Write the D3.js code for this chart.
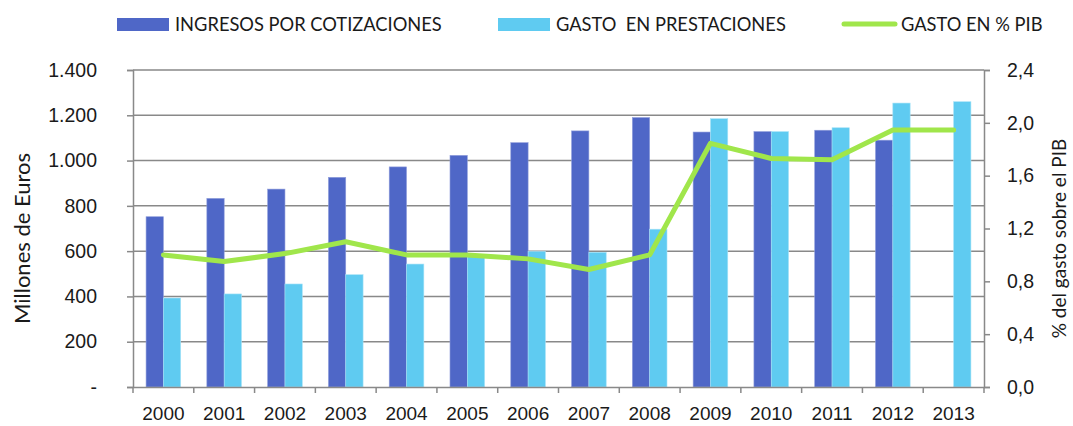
<!DOCTYPE html>
<html>
<head>
<meta charset="utf-8">
<script src="https://cdn.jsdelivr.net/npm/d3@7"></script>
<style>
  html, body { margin: 0; padding: 0; background: #fff; }
  svg { display: block; font-family: Lato, "Open Sans", sans-serif; }
</style>
</head>
<body>
<svg id="chart" width="1073" height="426"></svg>
<script>
// Años
const years = ["2000","2001","2002","2003","2004","2005","2006","2007","2008","2009","2010","2011","2012","2013"];
// Ingresos por cotizaciones (millones de euros)
const ingresos = [752, 833, 874, 926, 972, 1023, 1079, 1131, 1190, 1126, 1128, 1134, 1090, 0];
// Gasto en prestaciones (millones de euros)
const gasto = [393, 411, 455, 496, 543, 585, 599, 595, 697, 1185, 1128, 1145, 1254, 1260];
// Gasto en % del PIB
const gastoPib = [1.0, 0.95, 1.01, 1.10, 1.0, 1.0, 0.97, 0.89, 1.0, 1.845, 1.73, 1.72, 1.945, 1.945];

const leftTicks = [0, 200, 400, 600, 800, 1000, 1200, 1400];
const rightTicks = [0, 0.4, 0.8, 1.2, 1.6, 2.0, 2.4];

const svg = d3.select("#chart");
const m = { left: 133, right: 984, top: 70, bottom: 387 };
const axisColor = "#898989";
const textColor = "#1a1a1a";

const x = d3.scaleBand().domain(years).range([m.left, m.right]).padding(0);
const groupW = x.bandwidth() * 0.57;
const xs = d3.scaleBand().domain(["ing", "gas"]).range([0, groupW]).padding(0);
const yL = d3.scaleLinear().domain([0, 1400]).range([m.bottom, m.top]);
const yR = d3.scaleLinear().domain([0, 2.4]).range([m.bottom, m.top]);

const fmtES = d3.formatLocale({ decimal: ",", thousands: ".", grouping: [3], currency: ["", "€"] });
const fmtInt = fmtES.format(",.0f");
const fmtDec = fmtES.format(".1f");

// Líneas de cuadrícula horizontales
svg.append("g")
  .selectAll("line")
  .data(leftTicks.filter(d => d > 0))
  .join("line")
  .attr("x1", m.left).attr("x2", m.right)
  .attr("y1", d => yL(d)).attr("y2", d => yL(d))
  .attr("stroke", axisColor).attr("stroke-width", 1.5);

// Barras
const groups = svg.append("g")
  .selectAll("g")
  .data(years.map((yr, i) => ({ yr, ing: ingresos[i], gas: gasto[i] })))
  .join("g")
  .attr("transform", d => `translate(${x(d.yr) + (x.bandwidth() - groupW) / 2},0)`);

groups.append("rect")
  .attr("x", xs("ing")).attr("width", xs.bandwidth())
  .attr("y", d => yL(d.ing)).attr("height", d => yL(0) - yL(d.ing))
  .attr("fill", "#4F67C7")
  .attr("stroke", "#8f9ddb").attr("stroke-width", d => d.ing > 0 ? 0.6 : 0);

groups.append("rect")
  .attr("x", xs("gas")).attr("width", xs.bandwidth())
  .attr("y", d => yL(d.gas)).attr("height", d => yL(0) - yL(d.gas))
  .attr("fill", "#5FCBF1")
  .attr("stroke", "#a9e3f7").attr("stroke-width", 0.6);

// Eje izquierdo
const axL = svg.append("g")
  .attr("transform", `translate(${m.left},0)`)
  .call(d3.axisLeft(yL).tickValues(leftTicks).tickSize(6).tickPadding(30)
    .tickFormat(d => d === 0 ? "-" : fmtInt(d)));
axL.select(".domain").attr("stroke", axisColor).attr("stroke-width", 1.5);
axL.selectAll(".tick line").attr("stroke", axisColor).attr("stroke-width", 1.5);
axL.selectAll(".tick text").attr("font-size", 19.5).attr("fill", textColor);

// Eje derecho
const axR = svg.append("g")
  .attr("transform", `translate(${m.right},0)`)
  .call(d3.axisRight(yR).tickValues(rightTicks).tickSize(6).tickPadding(17)
    .tickFormat(fmtDec));
axR.select(".domain").attr("stroke", axisColor).attr("stroke-width", 1.5);
axR.selectAll(".tick line").attr("stroke", axisColor).attr("stroke-width", 1.5);
axR.selectAll(".tick text").attr("font-size", 19.5).attr("fill", textColor);

// Eje horizontal
const axB = svg.append("g")
  .attr("transform", `translate(0,${m.bottom})`)
  .call(d3.axisBottom(x).tickSize(0).tickPadding(20));
axB.select(".domain").attr("stroke", axisColor).attr("stroke-width", 1.5);
axB.selectAll(".tick text").attr("font-size", 19).attr("fill", textColor);
svg.append("g")
  .selectAll("line")
  .data(d3.range(years.length + 1))
  .join("line")
  .attr("x1", i => m.left + i * x.bandwidth()).attr("x2", i => m.left + i * x.bandwidth())
  .attr("y1", m.bottom).attr("y2", m.bottom + 6)
  .attr("stroke", axisColor).attr("stroke-width", 1.5);

// Línea de gasto en % del PIB
svg.append("path")
  .datum(gastoPib)
  .attr("fill", "none")
  .attr("stroke", "#A0E64B")
  .attr("stroke-width", 5)
  .attr("stroke-linejoin", "round")
  .attr("stroke-linecap", "round")
  .attr("d", d3.line()
    .x((d, i) => x(years[i]) + x.bandwidth() / 2)
    .y(d => yR(d)));

// Títulos de los ejes
svg.append("text")
  .attr("transform", `translate(30,${(m.top + m.bottom) / 2 + 10}) rotate(-90)`)
  .attr("text-anchor", "middle")
  .attr("font-size", 22).attr("fill", textColor)
  .text("Millones de Euros");

svg.append("text")
  .attr("transform", `translate(1066,${(m.top + m.bottom) / 2 + 10}) rotate(-90)`)
  .attr("text-anchor", "middle")
  .attr("font-size", 19).attr("fill", textColor)
  .text("% del gasto sobre el PIB");

// Leyenda
const legend = svg.append("g").attr("font-size", 18.3).attr("fill", textColor);
legend.append("rect").attr("x", 117).attr("y", 18).attr("width", 52).attr("height", 13).attr("fill", "#4F67C7");
legend.append("text").attr("x", 175).attr("y", 31).text("INGRESOS POR COTIZACIONES");
legend.append("rect").attr("x", 498).attr("y", 18).attr("width", 52).attr("height", 13).attr("fill", "#5FCBF1");
legend.append("text").attr("x", 556).attr("y", 31).attr("xml:space", "preserve").text("GASTO  EN PRESTACIONES");
legend.append("line").attr("x1", 844).attr("x2", 895).attr("y1", 24).attr("y2", 24)
  .attr("stroke", "#A0E64B").attr("stroke-width", 5).attr("stroke-linecap", "round");
legend.append("text").attr("x", 901).attr("y", 31).text("GASTO EN % PIB");
</script>
</body>
</html>
